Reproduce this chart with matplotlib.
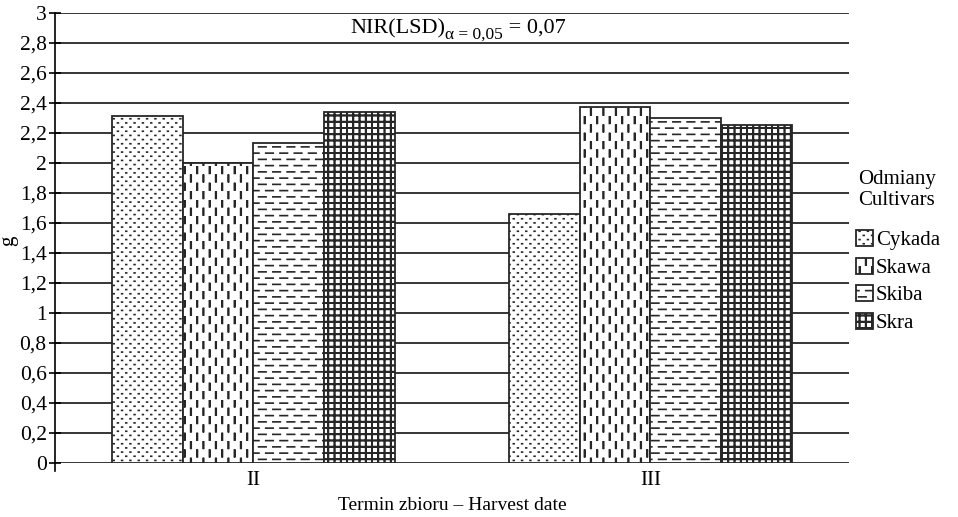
import warnings
import numpy as np
import matplotlib
matplotlib.use('Agg')
import matplotlib.pyplot as plt
import matplotlib.hatch as mhatch
from matplotlib.path import Path

warnings.filterwarnings('ignore')

# data
dates = ['II', 'III']
cultivars = ['Cykada', 'Skawa', 'Skiba', 'Skra']
values = {
    'Cykada': [2.31, 1.66],
    'Skawa': [2.00, 2.37],
    'Skiba': [2.13, 2.30],
    'Skra': [2.34, 2.25],
}
yticks = [0, 0.2, 0.4, 0.6, 0.8, 1, 1.2, 1.4, 1.6, 1.8, 2, 2.2, 2.4, 2.6, 2.8, 3]
ytick_labels = [('%g' % t).replace('.', ',') for t in yticks]


def dash_segs(n_across, n_along, length, vertical, thick=0.0):
    # staggered short dashes inside one hatch tile, wrapped at the edge
    segs = []
    for i in range(n_across):
        p = (i + 0.5) / n_across
        shift = 0.5 / n_along if i % 2 else 0.0
        for j in range(n_along):
            a = j / n_along + shift + 0.1 / n_along
            b = a + length
            pieces = [(a, min(b, 1.0))]
            if b > 1:
                pieces.append((0.0, b - 1.0))
            for s, e in pieces:
                for q in ([p, p + thick] if thick else [p]):
                    if vertical:
                        segs.append([[q, s], [q, e]])
                    else:
                        segs.append([[s, q], [e, q]])
    return np.array(segs)


def grid_segs(n, thick=0.0):
    segs = []
    for i in range(n):
        p = (i + 0.5) / n
        for q in ([p, p + thick] if thick else [p]):
            segs.append([[q, 0], [q, 1]])
            segs.append([[0, q], [1, q]])
    return np.array(segs)


class SegHatch(mhatch.HatchPatternBase):
    char = None
    segs = None

    def __init__(self, hatch, density):
        self.num_vertices = len(self.segs) * 2 if self.char in hatch else 0

    def set_vertices_and_codes(self, vertices, codes):
        vertices[:] = self.segs.reshape(-1, 2)
        codes[0::2] = Path.MOVETO
        codes[1::2] = Path.LINETO


class DotHatch(SegHatch):
    char = '1'
    segs = dash_segs(24, 12, 0.008, False)


class VDashHatch(SegHatch):
    char = '2'
    segs = dash_segs(16, 6, 0.065, True, thick=0.006)


class HDashHatch(SegHatch):
    char = '3'
    segs = dash_segs(16, 7, 0.075, False)


class GridHatch(SegHatch):
    char = '4'
    segs = grid_segs(16, thick=0.003)


mhatch._hatch_types.extend([DotHatch, VDashHatch, HDashHatch, GridHatch])
hatches = ['1', '2', '3', '4']

plt.rcParams['font.family'] = 'Liberation Serif'
plt.rcParams['hatch.linewidth'] = 1.2

fig = plt.figure(figsize=(9.58, 5.17), dpi=100)
ax = fig.add_axes([0.0574, 0.1044, 0.8288, 0.8705])

x = np.arange(len(dates))
w = 0.178
for k, name in enumerate(cultivars):
    ax.bar(x + (k - 1.5) * w, values[name], w, color='white', edgecolor='#262626',
           linewidth=1.3, hatch=hatches[k], label=name, zorder=3)

ax.set_xlim(-0.5, 1.5)
ax.set_ylim(0, 3)
ax.set_yticks(yticks)
ax.set_yticklabels(ytick_labels)
ax.set_xticks(x)
ax.set_xticklabels(dates)
ax.yaxis.grid(True, color='#262626', linewidth=1.3)
ax.set_axisbelow(True)
for s in ['top', 'right', 'bottom']:
    ax.spines[s].set_visible(False)
ax.spines['left'].set_bounds(-0.055, 3)
ax.spines['left'].set_linewidth(1.2)
ax.tick_params(axis='y', direction='inout', length=8, width=1.2, labelsize=15.5, pad=2)
ax.tick_params(axis='x', length=0, labelsize=15, pad=6)
ax.set_xlabel('Termin zbioru \u2013 Harvest date', fontsize=14, labelpad=5)
ax.set_ylabel('g', fontsize=15)
ax.yaxis.set_label_coords(-0.047, 0.493)

# NIR(LSD) with a larger subscript than mathtext gives
r = fig.canvas.get_renderer()
W, H = fig.get_size_inches() * fig.dpi
t1 = fig.text(350 / W, 1 - 33 / H, 'NIR(LSD)', fontsize=16, va='baseline')
x1 = t1.get_window_extent(r).x1
t2 = fig.text(x1 / W, 1 - 39 / H, '\u03b1 = 0,05', fontsize=12.5, va='baseline')
x2 = t2.get_window_extent(r).x1
fig.text(x2 / W, 1 - 33 / H, ' = 0,07', fontsize=16, va='baseline')

fig.text(858 / W, 1 - 190 / H, 'Odmiany\nCultivars', ha='left', va='center',
         fontsize=15, linespacing=1.15)
leg = fig.legend(loc='center left', bbox_to_anchor=(856 / W, 1 - 281.5 / H), frameon=False,
                 fontsize=15, borderpad=0, borderaxespad=0, handlelength=0.8,
                 handleheight=0.8, handletextpad=0.15, labelspacing=0.35)

fig.savefig('out.png', dpi=100)
